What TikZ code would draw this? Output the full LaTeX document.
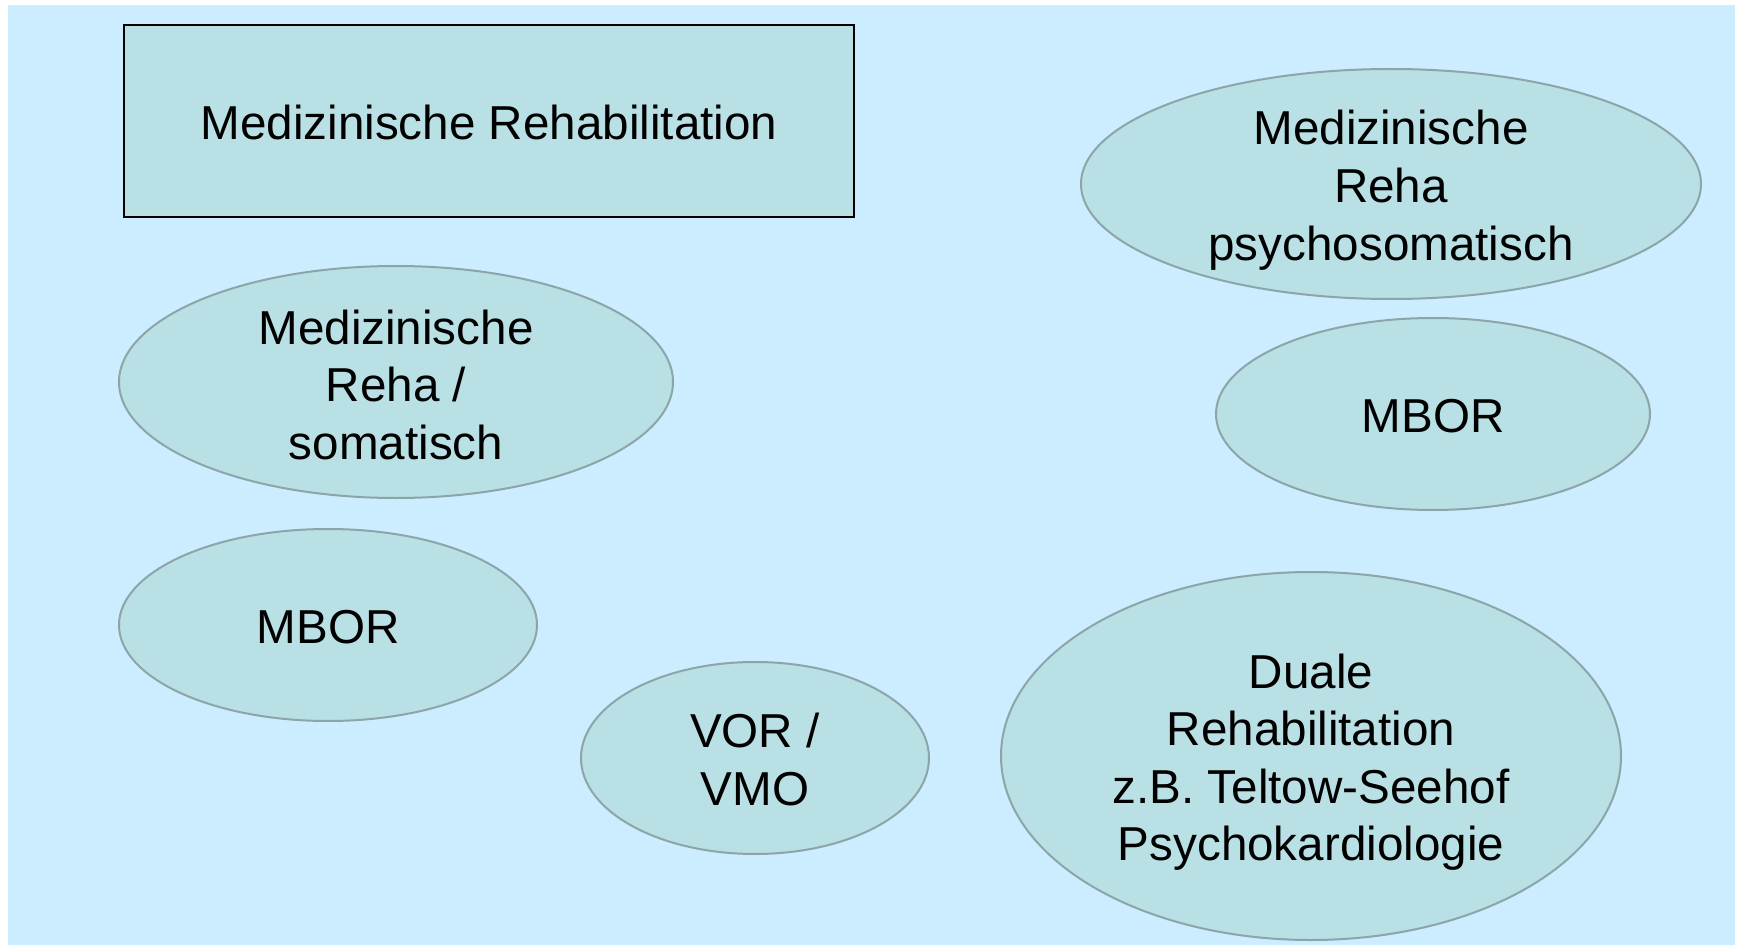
\documentclass[tikz,border=0pt]{standalone}
\usepackage{fontspec}
\setmainfont{Liberation Sans}
\usetikzlibrary{shapes.geometric}
\definecolor{bgblue}{RGB}{204,236,255}
\definecolor{tealfill}{RGB}{185,224,228}
\definecolor{tealline}{RGB}{140,165,168}
% Stuetze, damit die Texte etwas tiefer sitzen
\newcommand{\lift}[1]{\rule{0pt}{#1pt}}
\begin{document}
\begin{tikzpicture}[x=0.5pt, y=-0.5pt,
  font=\fontsize{23.8}{28.8}\selectfont,
  head/.style={draw=black, line width=1pt, fill=tealfill, inner sep=0pt,
    minimum width=365pt, minimum height=96pt},
  blob/.style={ellipse, draw=tealline, line width=1pt, fill=tealfill,
    inner sep=0pt, inner ysep=-3pt, align=center}]
  % Bildrahmen in Pixeln des Originals (1737 x 947)
  \useasboundingbox (0,0) rectangle (1737,947);
  \fill[bgblue] (8,5) rectangle (1735,945);
  \node[head] (reha) at (489,121) {\lift{19}Medizinische Rehabilitation};
  % linke Spalte
  \node[blob, minimum width=277pt, minimum height=116pt] (soma) at (396,382)
    {\lift{20}Medizinische\\Reha /\\somatisch};
  \node[blob, minimum width=209pt, minimum height=96pt] (mborL) at (328,625)
    {\lift{19}MBOR};
  \node[blob, minimum width=174pt, minimum height=96pt] (vor) at (755,758)
    {\lift{19}VOR /\\VMO};
  % rechte Spalte
  \node[blob, minimum width=310pt, minimum height=115pt] (psy) at (1391,184)
    {\lift{23.5}Medizinische\\Reha\\psychosomatisch};
  \node[blob, minimum width=217pt, minimum height=96pt] (mborR) at (1433,414)
    {\lift{19}MBOR};
  \node[blob, minimum width=310pt, minimum height=184pt] (dual) at (1311,756)
    {\lift{23.5}Duale\\Rehabilitation\\z.B. Teltow-Seehof\\Psychokardiologie};
\end{tikzpicture}
\end{document}
